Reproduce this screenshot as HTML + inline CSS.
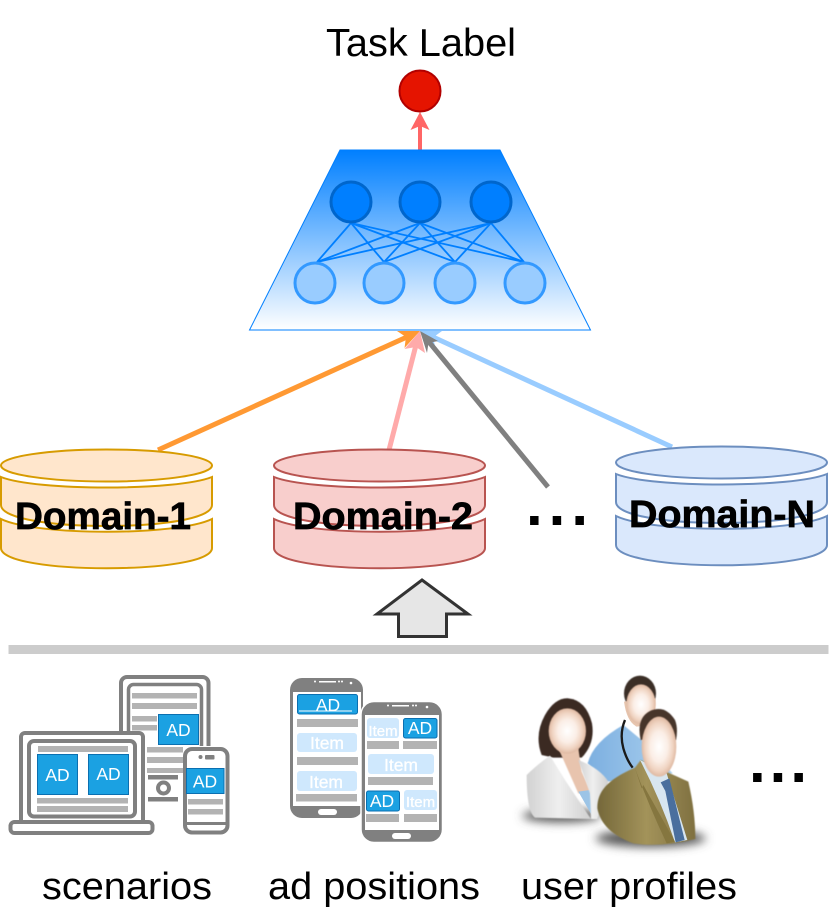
<!DOCTYPE html>
<html>
<head>
<meta charset="utf-8">
<style>
html,body{margin:0;padding:0;background:#fff;width:839px;height:915px;overflow:hidden}
svg{display:block}
text{font-family:"Liberation Sans",sans-serif}
.ad{fill:#fff;font-size:17.5px;text-anchor:middle}
.bar{fill:#b3b3b3}
.blue{fill:#1ba1e2;stroke:#0b6fb0;stroke-width:1}
.it{fill:#cfe8fd}
.itt{fill:#fff;font-size:17.5px;text-anchor:middle;stroke:#fff;stroke-width:.3}
.lab{font-size:38px;fill:#000}
.dom{font-size:38px;font-weight:bold;fill:#000;stroke:#000;stroke-width:.7}
</style>
</head>
<body>
<svg width="839" height="915" viewBox="0 0 839 915" xmlns="http://www.w3.org/2000/svg">
<defs>
<linearGradient id="tr" x1="0" y1="0" x2="0" y2="1">
<stop offset="0" stop-color="#007fff"/><stop offset="1" stop-color="#ffffff"/>
</linearGradient>
<linearGradient id="wj" x1="0" y1="0" x2="1" y2="0">
<stop offset="0" stop-color="#d2d2d2"/><stop offset=".5" stop-color="#efefef"/><stop offset="1" stop-color="#d0d0d0"/>
</linearGradient>
<linearGradient id="sj" x1="0" y1="0" x2="1" y2="0">
<stop offset="0" stop-color="#75683a"/><stop offset=".5" stop-color="#a3935a"/><stop offset="1" stop-color="#7f7040"/>
</linearGradient>
<linearGradient id="bj" x1="0" y1="0" x2="1" y2="0">
<stop offset="0" stop-color="#7cafe0"/><stop offset="1" stop-color="#a9cfee"/>
</linearGradient>
<radialGradient id="face">
<stop offset="0" stop-color="#ffffff"/><stop offset=".5" stop-color="#fbeee6"/><stop offset=".8" stop-color="#f0d4c2"/><stop offset="1" stop-color="#dfb9a2"/>
</radialGradient>
<filter id="bl" x="-30%" y="-100%" width="160%" height="300%"><feGaussianBlur stdDeviation="14"/></filter>
<filter id="sb" x="-10%" y="-10%" width="120%" height="120%"><feGaussianBlur stdDeviation="1.5"/></filter>
<g id="cyl" stroke-width="2">
<ellipse cx="105.5" cy="16.5" rx="105.5" ry="16"/>
<path d="M0,28 C35,42 176,42 211,28 L211,56 C211,84 0,84 0,56 Z"/>
<path d="M0,70 C35,87 176,87 211,70 L211,99 C211,126 0,126 0,99 Z"/>
</g>
</defs>

<!-- top -->
<text x="326" y="56" style="font-size:39px" textLength="190" lengthAdjust="spacingAndGlyphs">Task Label</text>
<line x1="420" y1="150" x2="420" y2="124" stroke="#ff6666" stroke-width="4"/>
<polygon points="420,112 429.5,130 420,126 410.5,130" fill="#ff6666"/>
<circle cx="420" cy="91" r="20.5" fill="#e51400" stroke="#b20000" stroke-width="2"/>

<polygon points="340,150 500,150 590.5,330 249.5,330" fill="url(#tr)" stroke="#007fff" stroke-width="1"/>
<g stroke="#007fff" stroke-width="1.8">
<line x1="351" y1="223" x2="317" y2="262"/><line x1="351" y1="223" x2="384" y2="262"/><line x1="351" y1="223" x2="455" y2="262"/><line x1="351" y1="223" x2="524" y2="262"/>
<line x1="420" y1="223" x2="317" y2="262"/><line x1="420" y1="223" x2="384" y2="262"/><line x1="420" y1="223" x2="455" y2="262"/><line x1="420" y1="223" x2="524" y2="262"/>
<line x1="491" y1="223" x2="317" y2="262"/><line x1="491" y1="223" x2="384" y2="262"/><line x1="491" y1="223" x2="455" y2="262"/><line x1="491" y1="223" x2="524" y2="262"/>
</g>
<g fill="#007fff" stroke="#0066cc" stroke-width="3">
<circle cx="351" cy="202" r="20"/><circle cx="420" cy="202" r="20"/><circle cx="491" cy="202" r="20"/>
</g>
<g fill="#99ccff" stroke="#3399ff" stroke-width="3">
<circle cx="315" cy="283" r="20"/><circle cx="384" cy="283" r="20"/><circle cx="455" cy="283" r="20"/><circle cx="525" cy="283" r="20"/>
</g>

<!-- connectors -->
<line x1="158" y1="450" x2="408" y2="336.5" stroke="#ff9933" stroke-width="5"/>
<polygon points="420,331 404.5,348 406,337 397,331" fill="#ff9933"/>
<line x1="672" y1="447" x2="433" y2="337" stroke="#99ccff" stroke-width="5"/>
<polygon points="420,331 442,331 433,337.5 435,346" fill="#99ccff"/>
<line x1="548" y1="487" x2="429" y2="342" stroke="#808080" stroke-width="5"/>
<polygon points="420,331 438,341 428.5,343 427,353" fill="#808080"/>
<line x1="389" y1="450" x2="416" y2="345" stroke="#ffaaaa" stroke-width="5"/>
<polygon points="420,331 425,353 416,347 404.5,349" fill="#ffaaaa"/>

<!-- cylinders -->
<use href="#cyl" x="1" y="449" fill="#ffe6cc" stroke="#d79b00"/>
<use href="#cyl" x="274" y="449" fill="#f8cecc" stroke="#b85450"/>
<use href="#cyl" x="616" y="446" fill="#dae8fc" stroke="#6c8ebf"/>
<text class="dom" x="15" y="529" textLength="176" lengthAdjust="spacingAndGlyphs">Domain-1</text>
<text class="dom" x="293" y="529" textLength="180" lengthAdjust="spacingAndGlyphs">Domain-2</text>
<text class="dom" x="629" y="527" textLength="186" lengthAdjust="spacingAndGlyphs">Domain-N</text>
<text x="526" y="525" style="font-size:60px;font-weight:bold;letter-spacing:6px">...</text>
<text x="749" y="782" style="font-size:60px;font-weight:bold;letter-spacing:4px">...</text>

<!-- block arrow & divider -->
<polygon points="422,580 468,614 446.5,614 446.5,636.5 398.5,636.5 398.5,614 377,614" fill="#e6e6e6" stroke="#333" stroke-width="3"/>
<rect x="8.5" y="645" width="820" height="9" fill="#cccccc"/>

<!-- scenarios icon -->
<g>
<rect x="121" y="677" width="87.5" height="110" rx="6" fill="#fff" stroke="#808080" stroke-width="4"/>
<rect x="128.5" y="684.5" width="73" height="90" rx="5" fill="#fff" stroke="#808080" stroke-width="3.5"/>
<rect class="bar" x="132" y="693" width="65" height="5.5"/>
<rect class="bar" x="132" y="703" width="65" height="6"/>
<rect class="bar" x="132" y="716" width="25" height="5.5"/>
<rect class="bar" x="132" y="725" width="25" height="5.5"/>
<rect class="blue" x="158.5" y="714.5" width="40" height="30"/>
<text class="ad" x="178.5" y="736">AD</text>
<rect x="114" y="746" width="100" height="66" fill="#fff"/>
<rect class="bar" x="147" y="747" width="36" height="5.5"/>
<rect class="bar" x="147" y="757" width="36" height="6"/>
<rect class="bar" x="147" y="768" width="36" height="5"/>
<rect x="148" y="775" width="30" height="4.5" fill="#808080"/>
<circle cx="163.5" cy="788" r="5.5" fill="#fff" stroke="#808080" stroke-width="4"/>
<rect x="148" y="797" width="30" height="4.5" fill="#808080"/>

<rect x="21" y="733" width="122" height="91" rx="4" fill="#fff" stroke="#808080" stroke-width="4"/>
<rect x="29" y="741" width="106" height="75.5" rx="5" fill="#fff" stroke="#808080" stroke-width="4"/>
<rect class="bar" x="38" y="746" width="90" height="6"/>
<rect class="blue" x="37.5" y="754.5" width="40" height="40"/>
<rect class="blue" x="88.5" y="754.5" width="40" height="40"/>
<text class="ad" x="57.5" y="781">AD</text>
<text class="ad" x="108.5" y="780">AD</text>
<rect class="bar" x="37" y="798" width="91" height="5.5"/>
<rect class="bar" x="37" y="806" width="91" height="6"/>
<rect x="10.5" y="822" width="142" height="11" rx="4" fill="#fff" stroke="#808080" stroke-width="4"/>

<rect x="185" y="749" width="42.5" height="83.5" rx="7" fill="#fff" stroke="#808080" stroke-width="4"/>
<circle cx="200.5" cy="757" r="2" fill="#808080"/>
<rect x="205" y="755" width="9.5" height="4.5" rx="1" fill="#808080"/>
<rect class="blue" x="186.5" y="768.5" width="37.5" height="25"/>
<text class="ad" x="205" y="787.5">AD</text>
<rect class="bar" x="188" y="799" width="35" height="5.5"/>
<rect class="bar" x="188" y="809" width="35" height="5.5"/>
<rect x="184" y="822" width="44" height="3" fill="#808080"/>
</g>

<!-- ad positions icon -->
<g>
<rect x="290" y="678" width="73" height="140" rx="12" fill="#808080"/>
<rect x="293" y="692" width="68" height="114" fill="#fff"/>
<rect x="318" y="809" width="19" height="6" rx="3" fill="#fff"/>
<rect x="319" y="681" width="17" height="1.5" fill="#fff"/>
<circle cx="315" cy="681.5" r="1" fill="#fff"/><circle cx="339" cy="681.5" r="1" fill="#fff"/><circle cx="342" cy="681.5" r="1" fill="#fff"/><circle cx="351" cy="683" r="1.3" fill="#fff"/>
<rect class="blue" x="297.5" y="694.5" width="60" height="19.5" rx="2"/>
<line x1="299" y1="711" x2="352" y2="711" stroke="#fff" stroke-width="1"/>
<text class="ad" x="328" y="711">AD</text>
<rect class="bar" x="297" y="719" width="61" height="8"/>
<rect class="it" x="297" y="733" width="60" height="19" rx="3"/>
<text class="itt" x="327" y="749">Item</text>
<rect class="bar" x="297" y="757" width="61" height="8"/>
<rect class="it" x="297" y="771" width="60" height="20" rx="3"/>
<text class="itt" x="326" y="788">Item</text>
<rect class="bar" x="296" y="794" width="61" height="7.5"/>

<rect x="361" y="701.5" width="81.5" height="141" rx="13" fill="#808080" stroke="#fff" stroke-width="1.5"/>
<rect x="365" y="715" width="74" height="115" fill="#fff"/>
<rect x="392" y="833" width="19" height="6" rx="3" fill="#fff"/>
<rect x="392" y="705" width="17" height="1.5" fill="#fff"/>
<circle cx="388" cy="705.5" r="1" fill="#fff"/><circle cx="413" cy="705.5" r="1" fill="#fff"/><circle cx="416" cy="705.5" r="1" fill="#fff"/><circle cx="427" cy="707" r="1.3" fill="#fff"/>
<rect class="it" x="367" y="718" width="32" height="20" rx="3"/>
<text class="itt" x="383" y="736" style="font-size:15px">Item</text>
<rect class="blue" x="403.5" y="718.5" width="33.5" height="19.5" rx="2"/>
<text class="ad" x="420" y="734">AD</text>
<rect class="bar" x="367" y="741" width="32" height="8"/>
<rect class="bar" x="403" y="741" width="34" height="8"/>
<rect class="it" x="368" y="754" width="66" height="20" rx="3"/>
<text class="itt" x="401" y="771">Item</text>
<rect class="bar" x="368" y="777" width="65" height="8"/>
<rect class="blue" x="366.5" y="791" width="33" height="20" rx="2"/>
<text class="ad" x="382" y="807">AD</text>
<rect class="it" x="404" y="790" width="33" height="20" rx="3"/>
<text class="itt" x="420.5" y="807" style="font-size:15px">Item</text>
<rect class="bar" x="366" y="814" width="33" height="8"/>
<rect class="bar" x="404" y="814" width="33" height="8"/>
</g>

<!-- people -->
<g transform="translate(510 665) scale(.33333)">
<ellipse cx="155" cy="452" rx="118" ry="20" fill="#555" filter="url(#bl)"/>
<ellipse cx="422" cy="520" rx="165" ry="26" fill="#555" filter="url(#bl)"/>
<!-- back man -->
<path d="M233,295 Q250,230 340,180 L395,225 L488,325 L370,345 L290,350 Z" fill="url(#bj)" filter="url(#sb)"/>
<path d="M345,165 Q328,205 340,250 Q350,285 368,308" fill="none" stroke="#1a1a1a" stroke-width="7"/>
<ellipse cx="390" cy="85" rx="48" ry="53" fill="#3a2e27" filter="url(#sb)"/>
<path d="M342,110 Q350,170 380,185 L420,180 Q440,140 436,100 Z" fill="#e7c5ae"/>
<ellipse cx="393" cy="118" rx="44" ry="60" fill="url(#face)" filter="url(#sb)"/>
<!-- woman -->
<path d="M95,270 Q72,210 105,150 Q135,98 175,100 Q228,105 246,175 Q256,235 215,278 L130,278 Z" fill="#3b2a24" filter="url(#sb)"/>
<path d="M145,250 L205,250 L215,320 L245,385 L205,385 Z" fill="#e8c4ae" filter="url(#sb)"/>
<path d="M205,380 L240,375 L248,455 Z" fill="#9cc4e6"/>
<path d="M50,330 Q80,300 120,272 L165,345 L243,462 L75,458 Q50,440 50,330 Z" fill="url(#wj)" filter="url(#sb)"/>
<path d="M205,285 Q270,310 295,350 L262,462 L243,462 L240,385 Z" fill="url(#wj)" filter="url(#sb)"/>
<ellipse cx="172" cy="198" rx="56" ry="68" fill="url(#face)" filter="url(#sb)"/>
<!-- front man -->
<path d="M262,430 C262,380 290,345 375,308 L392,285 L480,325 L535,350 Q556,440 556,522 Q450,548 370,535 Q275,500 262,430 Z" fill="url(#sj)" filter="url(#sb)"/>
<path d="M390,285 L470,325 L532,525 L495,532 Q450,400 390,285 Z" fill="#d8e6f0"/>
<path d="M452,352 L478,340 L486,372 L524,525 L497,532 L466,378 Z" fill="#4a6f9e"/>
<path d="M375,310 L395,370 L400,360 L495,530 L470,535 Q420,430 375,310 Z" fill="#85763f"/>
<path d="M392,225 Q378,160 420,138 Q465,118 495,165 Q505,190 498,225 L400,225 Z" fill="#46362c" filter="url(#sb)"/>
<ellipse cx="447" cy="245" rx="52" ry="90" fill="url(#face)" filter="url(#sb)"/>
</g>

<!-- labels -->
<text class="lab" x="42" y="899" textLength="170" lengthAdjust="spacingAndGlyphs">scenarios</text>
<text class="lab" x="268" y="899" textLength="212" lengthAdjust="spacingAndGlyphs">ad positions</text>
<text class="lab" x="521" y="899" textLength="216" lengthAdjust="spacingAndGlyphs">user profiles</text>
</svg>
</body>
</html>
